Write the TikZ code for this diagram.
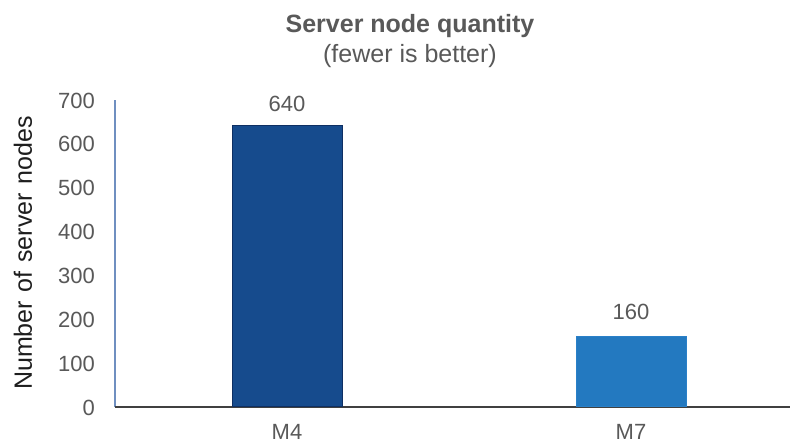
\documentclass[tikz,border=0pt]{standalone}
\usepackage{fontspec}
\setmainfont{Liberation Sans}
\definecolor{txtgray}{HTML}{595959}
\definecolor{txtdark}{HTML}{1E1E1E}
\definecolor{axisblue}{HTML}{6F8FC0}
\definecolor{axisdark}{HTML}{404040}
\definecolor{darkbar}{HTML}{164B8D}
\definecolor{darkbaredge}{HTML}{0E2F63}
\definecolor{lightbar}{HTML}{2379C0}
\definecolor{lightbaredge}{HTML}{2A80C8}
\newcommand{\px}[1]{\fontsize{#1}{#1}\selectfont}
\begin{document}
\begin{tikzpicture}[x=1pt,y=-1pt,
  lbl/.style={text=txtgray,inner sep=0pt,font=\px{22}},
  tick/.style={lbl,anchor=base east},
  bar/.style={rectangle,inner sep=0pt,minimum width=110pt,anchor=south,line width=1pt},
  val/.style={lbl,anchor=base},
]
\useasboundingbox[fill=white] (0,0) rectangle (790,444);

% titles
\node[lbl,anchor=base,font=\px{25}\bfseries] (title) at (410,33) {Server node quantity};
\node[lbl,anchor=base,font=\px{25}] (subtitle) at (410,63) {(fewer is better)};

% axes
\coordinate (origin) at (115,407);
\coordinate (ytop) at (115,100);
\coordinate (xend) at (790,407);
\draw[axisblue,line width=1.5pt] (origin) -- (ytop);
\draw[axisdark,line width=2pt] (origin) -- (xend);

% tick labels: y = 407 - v*307/700
\foreach \v in {0,100,...,700}{
  \node[tick] (t\v) at (95,{407-\v*0.43857+8}) {\v};
}

% axis title
\node[lbl,text=txtdark,rotate=90,font=\px{25}] (ylabel) at (23,253)
  {Number\hspace{0.35em}of\hspace{0.35em}server\hspace{0.35em}nodes};

% bars
\node[bar,fill=darkbar,draw=darkbaredge,minimum height={640*0.43857}] (m4bar) at (287,407) {};
\node[bar,fill=lightbar,draw=lightbaredge,minimum height={160*0.43857}] (m7bar) at (631,407) {};

% value labels
\node[val] (m4val) at ([yshift=14pt]m4bar.north) {640};
\node[val] (m7val) at ([yshift=16pt]m7bar.north) {160};

% category labels
\node[val] (m4cat) at (287,439) {M4};
\node[val] (m7cat) at (631,439) {M7};
\end{tikzpicture}
\end{document}
